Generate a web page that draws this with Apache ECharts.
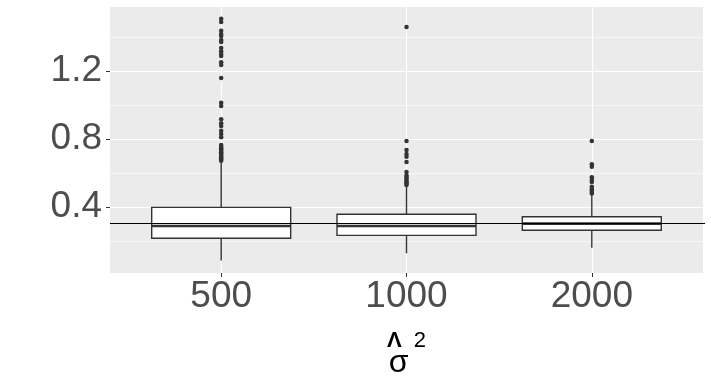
<!DOCTYPE html>
<html>
	<head>
		<meta charset="utf-8" />
		<title></title>
		<script type="text/javascript" src="https://cdn.jsdelivr.net/npm/echarts@6.0.0/dist/echarts.min.js"></script>
		<style>
			html, body { margin: 0; padding: 0; background: #fff; }
		</style>
	</head>
	<body>
	    <div id="main" style="width:711px; height: 384px;"></div>
		<script>
			// categories on the x axis
			var categories = ['500', '1000', '2000'];
			// box statistics per category
			var whiskerLow  = [0.085, 0.128, 0.161];
			var q1          = [0.216, 0.233, 0.263];
			var median      = [0.288, 0.288, 0.302];
			var q3          = [0.398, 0.357, 0.343];
			var whiskerHigh = [0.668, 0.525, 0.476];
			// outliers per category
			var outliers500 = [1.508, 1.488, 1.437, 1.418, 1.406, 1.382, 1.371, 1.335, 1.316, 1.300, 1.288,
				1.251, 1.235, 1.159, 1.013, 0.994, 0.916, 0.892, 0.876, 0.849, 0.829, 0.810,
				0.765, 0.755, 0.745, 0.738, 0.730, 0.722, 0.715, 0.707, 0.700, 0.693, 0.686, 0.679, 0.672];
			var outliers1000 = [1.459, 0.788, 0.735, 0.712, 0.696, 0.665, 0.606, 0.586, 0.575, 0.565, 0.555, 0.545, 0.537, 0.530];
			var outliers2000 = [0.788, 0.651, 0.637, 0.575, 0.559, 0.547, 0.519, 0.508, 0.497, 0.488, 0.480];
			// reference line
			var refLine = 0.303;
			// tick labels
			var yTicks = [0.4, 0.8, 1.2];
			var yMinor = [0.2, 0.6, 1.0, 1.4];

			var chartDom = document.getElementById('main');
			var myChart = echarts.init(chartDom);

			var boxData = [];
			for (var i = 0; i < categories.length; i++) {
				boxData.push([i + 1, whiskerLow[i], q1[i], median[i], q3[i], whiskerHigh[i]]);
			}
			var pts = [];
			[outliers500, outliers1000, outliers2000].forEach(function (arr, k) {
				arr.forEach(function (v) { pts.push([k + 1, v]); });
			});

			// panel grid lines (drawn underneath everything)
			var gridLines = [];
			yTicks.forEach(function (v) { gridLines.push({ yAxis: v, lineStyle: { width: 1.2 } }); });
			yMinor.forEach(function (v) { gridLines.push({ yAxis: v, lineStyle: { width: 0.6 } }); });
			for (var j = 0; j < categories.length; j++) {
				gridLines.push({ xAxis: j + 1, lineStyle: { width: 1.2 } });
			}

			var font = "'Liberation Sans', Arial, sans-serif";
			var dark = '#333333';

			var option = {
				animation: false,
				grid: {
					left: 110, right: 8, top: 7, bottom: 111,
					show: true, backgroundColor: '#EBEBEB', borderWidth: 0
				},
				xAxis: {
					type: 'value', min: 0.4, max: 3.6,
					axisLine: { show: false },
					splitLine: { show: false },
					axisTick: { show: true, length: 4, customValues: [1, 2, 3], lineStyle: { color: dark, width: 1 } },
					axisLabel: {
						customValues: [1, 2, 3], margin: 5,
						fontSize: 37, color: '#4D4D4D', fontFamily: font,
						formatter: function (v) { return categories[Math.round(v) - 1]; }
					},
					name: '{hat|Λ}{sup|2}\n{sig|σ}',
					nameLocation: 'middle',
					nameGap: 58,
					nameTextStyle: {
						fontFamily: font,
						rich: {
							hat: { fontSize: 22, fontWeight: 'bold', lineHeight: 20, color: '#000', fontFamily: font, padding: [0, 12, 0, 0] },
							sup: { fontSize: 22, lineHeight: 20, color: '#000', fontFamily: font },
							sig: { fontSize: 32, lineHeight: 24, color: '#000', fontFamily: font, padding: [0, 16, 0, 0] }
						}
					}
				},
				yAxis: {
					type: 'value', min: 0.0118, max: 1.5765,
					axisLine: { show: false },
					splitLine: { show: false },
					axisTick: { show: true, length: 4, customValues: yTicks, lineStyle: { color: dark, width: 1 } },
					axisLabel: {
						customValues: yTicks, margin: 8,
						fontSize: 37, color: '#4D4D4D', fontFamily: font,
						formatter: function (v) { return v.toFixed(1); }
					}
				},
				series: [
					{
						type: 'line',
						z: 0,
						silent: true,
						showSymbol: false,
						data: [],
						markLine: {
							z: 0,
							silent: true, symbol: 'none', animation: false,
							label: { show: false },
							lineStyle: { color: '#ffffff', type: 'solid', opacity: 1 },
							emphasis: { disabled: true },
							data: gridLines
						}
					},
					{
						type: 'custom',
						z: 2,
						silent: true,
						data: boxData,
						renderItem: function (params, api) {
							var x = api.value(0);
							var half = 0.375;
							var pLow = api.coord([x, api.value(1)]);
							var pQ1 = api.coord([x, api.value(2)]);
							var pMed = api.coord([x, api.value(3)]);
							var pQ3 = api.coord([x, api.value(4)]);
							var pHigh = api.coord([x, api.value(5)]);
							var left = api.coord([x - half, api.value(2)])[0];
							var right = api.coord([x + half, api.value(2)])[0];
							var ls = { stroke: dark, lineWidth: 1.4, fill: null };
							return {
								type: 'group',
								children: [
									{ type: 'line', shape: { x1: pLow[0], y1: pLow[1], x2: pQ1[0], y2: pQ1[1] }, style: ls },
									{ type: 'line', shape: { x1: pQ3[0], y1: pQ3[1], x2: pHigh[0], y2: pHigh[1] }, style: ls },
									{ type: 'rect', shape: { x: left, y: pQ3[1], width: right - left, height: pQ1[1] - pQ3[1] },
										style: { fill: '#ffffff', stroke: dark, lineWidth: 1.4 } },
									{ type: 'line', shape: { x1: left, y1: pMed[1], x2: right, y2: pMed[1] },
										style: { stroke: dark, lineWidth: 2.6 } }
								]
							};
						}
					},
					{
						type: 'scatter',
						z: 3,
						silent: true,
						symbolSize: 4.5,
						itemStyle: { color: dark, opacity: 1 },
						data: pts
					},
					{
						type: 'line',
						z: 5,
						silent: true,
						clip: false,
						showSymbol: false,
						lineStyle: { color: '#000000', width: 1.2 },
						data: [[0.4, refLine], [3.65, refLine]]
					}
				]
			};
			myChart.setOption(option);
		</script>
	</body>
</html>
